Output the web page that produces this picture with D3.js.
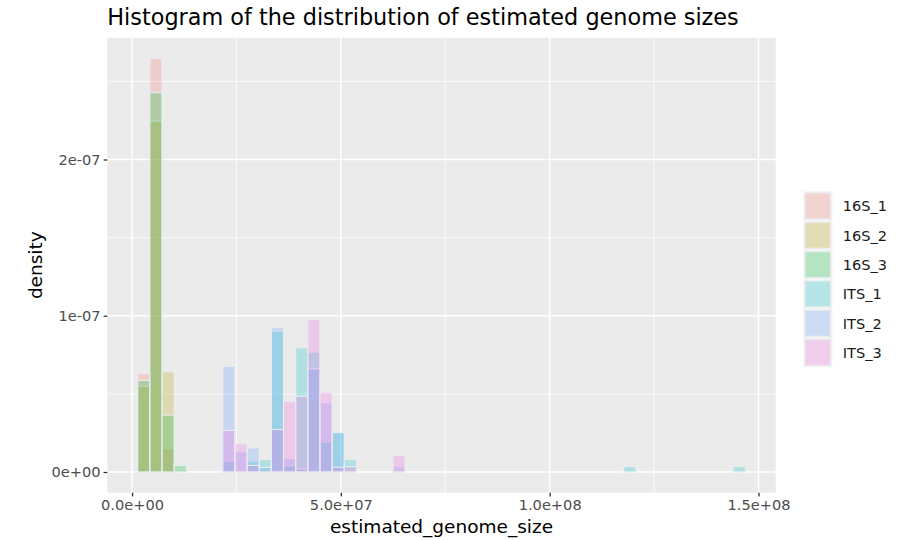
<!DOCTYPE html>
<html>
<head>
<meta charset="utf-8">
<script src="https://cdn.jsdelivr.net/npm/d3@7"></script>
<style>
  html, body { margin: 0; padding: 0; background: #ffffff; }
  svg { display: block; }
  text { font-family: "DejaVu Sans", sans-serif; }
</style>
</head>
<body>
<svg id="chart" width="901" height="540"></svg>
<script>
// Histogram bins (shared by every group)
const binStart = 1.345e6;
const binWidth = 2.91e6;
const binCount = 50;

// Group names and fill colours
const groups = ["16S_1", "16S_2", "16S_3", "ITS_1", "ITS_2", "ITS_3"];
const groupColors = ["#F8766D", "#B79F00", "#00BA38", "#00BFC4", "#619CFF", "#F564E3"];

// Densities per group as [bin index, density]; unlisted bins are 0
const dens16S_1 = [[0, 6.29e-8], [1, 2.647e-7], [2, 1.49e-8]];
const dens16S_2 = [[0, 5.49e-8], [1, 2.246e-7], [2, 6.41e-8]];
const dens16S_3 = [[0, 5.86e-8], [1, 2.428e-7], [2, 3.64e-8], [3, 4.2e-9]];
const densITS_1 = [[7, 6.7e-9], [9, 6.9e-9], [10, 8.0e-9], [11, 9.0e-8], [12, 3.7e-9],
                   [13, 7.95e-8], [14, 7.67e-8], [15, 1.91e-8], [16, 2.55e-8], [17, 7.9e-9],
                   [40, 3.5e-9], [49, 3.5e-9]];
const densITS_2 = [[7, 6.77e-8], [8, 1.29e-8], [9, 1.55e-8], [10, 2.9e-9], [11, 9.25e-8],
                   [12, 8.6e-9], [13, 2.0e-9], [14, 6.6e-8], [15, 4.43e-8], [16, 2.52e-8],
                   [21, 3.4e-9]];
const densITS_3 = [[7, 2.66e-8], [8, 1.82e-8], [9, 4.2e-9], [11, 2.72e-8], [12, 4.53e-8],
                   [13, 4.85e-8], [14, 9.76e-8], [15, 5.11e-8], [16, 3.1e-9], [17, 3.4e-9],
                   [21, 1.07e-8]];
const groupDensities = [dens16S_1, dens16S_2, dens16S_3, densITS_1, densITS_2, densITS_3];

// Axis ticks
const xMajor = [0, 5e7, 1e8, 1.5e8];
const xMinor = [2.5e7, 7.5e7, 1.25e8];
const yMajor = [0, 1e-7, 2e-7];
const yMinor = [5e-8, 1.5e-7, 2.5e-7];

const titleText = "Histogram of the distribution of estimated genome sizes";
const xTitle = "estimated_genome_size";
const yTitle = "density";

const fillAlpha = 0.25;
const outline = "#e9ecef";

// Expand each group to a full set of bins
const rows = [];
groups.forEach((g, gi) => {
  const vals = new Array(binCount).fill(0);
  groupDensities[gi].forEach(([b, v]) => { vals[b] = v; });
  vals.forEach((v, b) => {
    rows.push({ group: g, gi, x0: binStart + b * binWidth, x1: binStart + (b + 1) * binWidth, density: v });
  });
});

// Panel geometry
const panel = { left: 107.3, right: 775.7, top: 37.7, bottom: 492.7 };

const xLo = binStart, xHi = binStart + binCount * binWidth;
const xPad = (xHi - xLo) * 0.05;
const x = d3.scaleLinear().domain([xLo - xPad, xHi + xPad]).range([panel.left, panel.right]);

const yMax = d3.max(rows, d => d.density);
const yPad = yMax * 0.05;
const y = d3.scaleLinear().domain([-yPad, yMax + yPad]).range([panel.bottom, panel.top]);

// ggplot-like scientific labels: 1.0e+08, 2e-07
function sci(v, digits) {
  const s = v.toExponential(digits);
  const [m, e] = s.split("e");
  const sign = e[0] === "-" ? "-" : "+";
  const num = e.replace(/[+-]/, "").padStart(2, "0");
  return m + "e" + sign + num;
}

const svg = d3.select("#chart");

// Panel background
svg.append("rect")
  .attr("x", panel.left).attr("y", panel.top)
  .attr("width", panel.right - panel.left).attr("height", panel.bottom - panel.top)
  .attr("fill", "#EBEBEB");

const grid = svg.append("g");
// Minor grid
grid.selectAll(".xminor").data(xMinor).join("line")
  .attr("x1", d => x(d)).attr("x2", d => x(d))
  .attr("y1", panel.top).attr("y2", panel.bottom)
  .attr("stroke", "#fff").attr("stroke-width", 0.75);
grid.selectAll(".yminor").data(yMinor).join("line")
  .attr("y1", d => y(d)).attr("y2", d => y(d))
  .attr("x1", panel.left).attr("x2", panel.right)
  .attr("stroke", "#fff").attr("stroke-width", 0.75);
// Major grid
grid.selectAll(".xmajor").data(xMajor).join("line")
  .attr("x1", d => x(d)).attr("x2", d => x(d))
  .attr("y1", panel.top).attr("y2", panel.bottom)
  .attr("stroke", "#fff").attr("stroke-width", 1.5);
grid.selectAll(".ymajor").data(yMajor).join("line")
  .attr("y1", d => y(d)).attr("y2", d => y(d))
  .attr("x1", panel.left).attr("x2", panel.right)
  .attr("stroke", "#fff").attr("stroke-width", 1.5);

// Bars, one layer per group drawn in order
const bars = svg.append("g");
groups.forEach((g, gi) => {
  bars.append("g")
    .selectAll("rect")
    .data(rows.filter(r => r.gi === gi))
    .join("rect")
    .attr("x", d => x(d.x0))
    .attr("width", d => x(d.x1) - x(d.x0))
    .attr("y", d => y(d.density))
    .attr("height", d => y(0) - y(d.density))
    .attr("fill", groupColors[gi])
    .attr("fill-opacity", fillAlpha)
    .attr("stroke", outline)
    .attr("stroke-width", 1.1);
});

// Axes
const xAxis = d3.axisBottom(x).tickValues(xMajor).tickSize(3.7).tickPadding(3)
  .tickFormat(d => sci(d, 1));
const gx = svg.append("g").attr("transform", `translate(0,${panel.bottom})`).call(xAxis);
const yAxis = d3.axisLeft(y).tickValues(yMajor).tickSize(3.7).tickPadding(3)
  .tickFormat(d => sci(d, 0));
const gy = svg.append("g").attr("transform", `translate(${panel.left},0)`).call(yAxis);

[gx, gy].forEach(g => {
  g.select(".domain").remove();
  g.selectAll(".tick line").attr("stroke", "#333333").attr("stroke-width", 1.3);
  g.selectAll(".tick text")
    .attr("fill", "#4D4D4D")
    .style("font-size", "14.6px")
    .style("font-family", "DejaVu Sans, sans-serif");
});

// Titles
svg.append("text")
  .attr("x", panel.left).attr("y", 24.5)
  .style("font-size", "22.35px").attr("fill", "#000")
  .text(titleText);

svg.append("text")
  .attr("x", (panel.left + panel.right) / 2).attr("y", 533)
  .attr("text-anchor", "middle")
  .style("font-size", "18.5px").attr("fill", "#000")
  .text(xTitle);

svg.append("text")
  .attr("transform", `translate(41.5,${(panel.top + panel.bottom) / 2}) rotate(-90)`)
  .attr("text-anchor", "middle")
  .style("font-size", "18.5px").attr("fill", "#000")
  .text(yTitle);

// Legend
const legend = svg.append("g");
const keyTop = 191.3, keyPitch = 29.33, keyLeft = 803.3, keyW = 29;
groups.forEach((g, gi) => {
  const ky = keyTop + gi * keyPitch;
  legend.append("rect")
    .attr("x", keyLeft).attr("y", ky)
    .attr("width", keyW).attr("height", keyPitch)
    .attr("fill", "#F2F2F2");
  legend.append("rect")
    .attr("x", keyLeft + 1.7).attr("y", ky + 1.7)
    .attr("width", keyW - 3.4).attr("height", keyPitch - 3.4)
    .attr("fill", groupColors[gi]).attr("fill-opacity", fillAlpha)
    .attr("stroke", outline).attr("stroke-width", 1.1);
  legend.append("text")
    .attr("x", 842.7).attr("y", ky + keyPitch / 2)
    .attr("dy", "0.36em")
    .style("font-size", "14.6px").attr("fill", "#1A1A1A")
    .text(g);
});
</script>
</body>
</html>
